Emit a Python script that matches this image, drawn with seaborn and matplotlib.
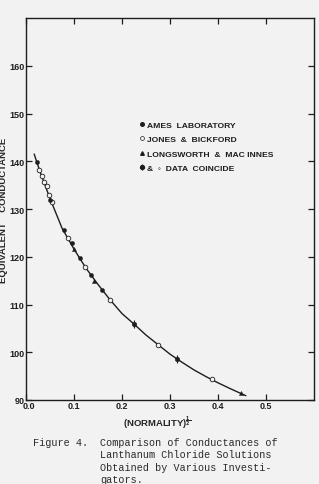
import matplotlib
matplotlib.use("Agg")
import matplotlib.pyplot as plt
import matplotlib.transforms as mtrans
from matplotlib.lines import Line2D
import seaborn as sns
import pandas as pd

# ---- data ----
ames_x = [0.022, 0.050, 0.079, 0.095, 0.112, 0.135, 0.158]
ames_y = [139.9, 131.9, 125.7, 122.9, 119.8, 116.1, 113.1]

jones_x = [0.027, 0.033, 0.038, 0.043, 0.048, 0.055, 0.087, 0.122, 0.175, 0.274, 0.3875]
jones_y = [138.2, 137.0, 135.7, 134.9, 132.9, 131.4, 124.0, 117.9, 111.0, 101.6, 94.4]

longs_x = [0.101, 0.142, 0.448]
longs_y = [121.6, 114.9, 91.4]

coinc_x = [0.224, 0.315]
coinc_y = [106.0, 98.6]

curve_x = [0.017, 0.030, 0.050, 0.075, 0.100, 0.125, 0.150, 0.175, 0.200, 0.225,
           0.250, 0.275, 0.300, 0.325, 0.350, 0.375, 0.400, 0.425, 0.458]
curve_y = [141.5, 137.6, 132.2, 126.0, 121.6, 117.6, 114.2, 111.0, 108.1, 105.9,
           103.6, 101.6, 99.6, 97.9, 96.3, 94.9, 93.6, 92.4, 90.9]

x_ticks = [0.0, 0.1, 0.2, 0.3, 0.4, 0.5]
x_tick_labels = ["0.0", "0.1", "0.2", "0.3", "0.4", "0.5"]
y_ticks = [90, 100, 110, 120, 130, 140, 150, 160]
y_tick_labels = ["90", "100", "110", "120", "130", "140", "150", "160"]

legend_labels = ["AMES  LABORATORY", "JONES  &  BICKFORD",
                 "LONGSWORTH  &  MAC INNES", "&  \u25e6  DATA  COINCIDE"]

caption_head = "Figure 4."
caption_lines = ["Comparison of Conductances of",
                 "Lanthanum Chloride Solutions",
                 "Obtained by Various Investi-",
                 "gators."]

# ---- figure ----
sns.set_style("ticks")
plt.rcParams["font.family"] = ["Liberation Sans", "DejaVu Sans"]
bg = "#f2f2f2"
ink = "#1e1e1e"
fig = plt.figure(figsize=(3.19, 4.85), dpi=100, facecolor=bg)
ax = fig.add_axes([26 / 319, 1 - 401 / 485, 288 / 319, 382 / 485])
ax.set_facecolor(bg)

curve = pd.DataFrame({"x": curve_x, "y": curve_y})
sns.lineplot(data=curve, x="x", y="y", ax=ax, color=ink, lw=1.0,
             estimator=None, sort=False)

ames = pd.DataFrame({"x": ames_x, "y": ames_y})
jones = pd.DataFrame({"x": jones_x, "y": jones_y})
longs = pd.DataFrame({"x": longs_x, "y": longs_y})
coinc = pd.DataFrame({"x": coinc_x, "y": coinc_y})

sns.scatterplot(data=jones, x="x", y="y", ax=ax, marker="o", s=11,
                facecolor=bg, edgecolor=ink, linewidth=0.6, zorder=3)
sns.scatterplot(data=ames, x="x", y="y", ax=ax, marker="o", s=9,
                color=ink, edgecolor=ink, linewidth=0.3, zorder=4)
sns.scatterplot(data=longs, x="x", y="y", ax=ax, marker="^", s=9,
                color=ink, edgecolor=ink, linewidth=0.3, zorder=4)
sns.scatterplot(data=coinc, x="x", y="y", ax=ax, marker="o", s=11,
                color=ink, edgecolor=ink, linewidth=0.3, zorder=4)
sns.scatterplot(data=coinc, x="x", y="y", ax=ax, marker="|", s=30,
                color=ink, linewidth=0.8, zorder=4)

ax.set_xlim(0, 0.6)
ax.set_ylim(90, 170)
ax.set_xticks(x_ticks)
ax.set_xticklabels(x_tick_labels)
ax.set_yticks(y_ticks)
ax.set_yticklabels(y_tick_labels)
ax.tick_params(direction="in", length=4, width=0.9, top=True, right=True,
               labelsize=6.5, colors=ink)
ax.tick_params(axis="x", pad=0.8)
ax.tick_params(axis="y", pad=1.0)
for lab in ax.get_xticklabels() + ax.get_yticklabels():
    lab.set_fontweight("bold")
# nudge first x tick label right as in the reference
first = ax.get_xticklabels()[0]
first.set_transform(first.get_transform() +
                    mtrans.ScaledTranslation(3 / 100, 0, fig.dpi_scale_trans))
for sp in ax.spines.values():
    sp.set_linewidth(1.0)
    sp.set_color(ink)

ax.set_xlabel("(NORMALITY)$^{\\mathbf{\\frac{1}{2}}}$", fontsize=6.8,
              fontweight="bold")
ax.xaxis.set_label_coords(0.455, -0.034)
ax.set_ylabel("EQUIVALENT    CONDUCTANCE", fontsize=6.8, fontweight="bold")
ax.yaxis.set_label_coords(-0.062, 0.5)

handles = [
    Line2D([], [], ls="none", marker="o", ms=2.6, color=ink),
    Line2D([], [], ls="none", marker="o", ms=2.8, mfc=bg, mec=ink, mew=0.5),
    Line2D([], [], ls="none", marker="^", ms=2.6, color=ink),
    (Line2D([], [], ls="none", marker="o", ms=2.8, color=ink),
     Line2D([], [], ls="none", marker="|", ms=5, color=ink, mew=0.8)),
]
leg = ax.legend(handles, legend_labels, loc="upper left",
                bbox_to_anchor=(0.395, 0.731), frameon=False,
                prop={"size": 6.1, "weight": "bold"}, handlelength=0.6,
                handletextpad=0.3, labelspacing=0.78, borderpad=0,
                borderaxespad=0)
for t in leg.get_texts():
    t.set_color(ink)

# caption
fig.text(33 / 319, 1 - 443 / 485, caption_head, family="Liberation Mono",
         fontsize=7.3, va="center", ha="left", color="#2a2a2a")
for i, line in enumerate(caption_lines):
    fig.text(100 / 319, 1 - (443 + 12.3 * i) / 485, line,
             family="Liberation Mono", fontsize=7.3, va="center", ha="left",
             color="#2a2a2a")

fig.savefig("out.png", dpi=100, facecolor=bg)
